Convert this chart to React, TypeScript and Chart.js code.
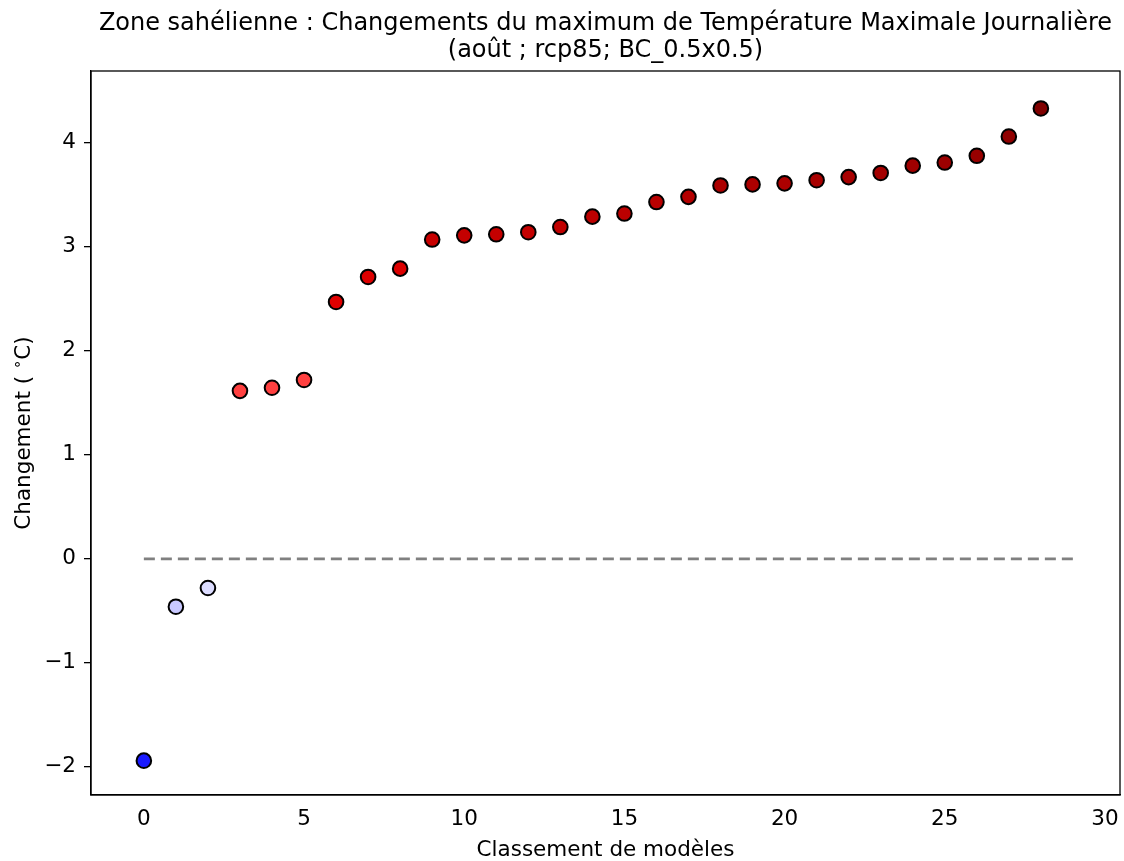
import React, { useEffect, useRef } from "react";
import { Chart, registerables } from "chart.js";

Chart.register(...registerables);

const ranks = [0,1,2,3,4,5,6,7,8,9,10,11,12,13,14,15,16,17,18,19,20,21,22,23,24,25,26,27,28];
const changes = [-1.94,-0.46,-0.28,1.615,1.645,1.72,2.47,2.71,2.79,3.07,3.11,3.12,3.14,3.19,3.29,3.32,3.43,3.48,3.59,3.60,3.61,3.64,3.67,3.71,3.78,3.81,3.875,4.06,4.33];
const pointColors = ["#1a1aff","#c8c8ff","#dcdcff","#ff4040","#ff4040","#ff4040","#e00000","#dd0000","#dd0000","#c80000","#c40000","#c40000","#c40000","#c00000","#bc0000","#bc0000","#b80000","#b40000","#ac0000","#ac0000","#ac0000","#a80000","#a80000","#a40000","#a00000","#9c0000","#980000","#900000","#800000"];
const zeroLineX = [0, 29];
const xTicks = [0, 5, 10, 15, 20, 25, 30];
const yTicks = [-2, -1, 0, 1, 2, 3, 4];
const titleLines = ["Zone sahélienne : Changements du maximum de Température Maximale Journalière", "(août ; rcp85; BC_0.5x0.5)"];
const xTitle = "Classement de modèles";

const FONT = "'DejaVu Sans', sans-serif";

const framePlugin = {
  id: "frame",
  afterDraw(chart: any) {
    const { ctx, chartArea } = chart;
    ctx.save();
    ctx.strokeStyle = "#000";
    ctx.lineWidth = 1.3;
    ctx.strokeRect(chartArea.left, chartArea.top, chartArea.right - chartArea.left, chartArea.bottom - chartArea.top);
    ctx.fillStyle = "#000";
    ctx.textAlign = "center";
    ctx.textBaseline = "alphabetic";
    ctx.font = `24px ${FONT}`;
    const cx = (chartArea.left + chartArea.right) / 2;
    ctx.fillText(titleLines[0], cx, 30);
    ctx.fillText(titleLines[1], cx, 57);
    ctx.font = `21.5px ${FONT}`;
    ctx.fillText(xTitle, cx, 856);
    // y title with superscript
    ctx.translate(30, (chartArea.top + chartArea.bottom) / 2);
    ctx.rotate(-Math.PI / 2);
    const a = "Changement ( ";
    const b = "∘";
    const c = "C)";
    ctx.font = `21.5px ${FONT}`;
    const wa = ctx.measureText(a).width;
    const wc = ctx.measureText(c).width;
    ctx.font = `15px ${FONT}`;
    const wb = ctx.measureText(b).width;
    const total = wa + wb + wc;
    const x0 = -total / 2;
    ctx.textAlign = "left";
    ctx.font = `21.5px ${FONT}`;
    ctx.fillText(a, x0, 0);
    ctx.font = `15px ${FONT}`;
    ctx.fillText(b, x0 + wa, -8);
    ctx.font = `21.5px ${FONT}`;
    ctx.fillText(c, x0 + wa + wb, 0);
    ctx.restore();
  },
};

export default function App() {
  const ref = useRef<HTMLCanvasElement | null>(null);
  useEffect(() => {
    document.body.style.margin = "0";
    const canvas = ref.current!;
    const chart = new Chart(canvas, {
      type: "scatter",
      data: {
        datasets: [
          {
            type: "line",
            data: zeroLineX.map((x) => ({ x, y: 0 })),
            borderColor: "#808080",
            borderWidth: 2.6,
            borderDash: [11, 6],
            pointRadius: 0,
            showLine: true,
            fill: false,
            order: 2,
          } as any,
          {
            data: ranks.map((r, i) => ({ x: r, y: changes[i] })),
            backgroundColor: pointColors,
            borderColor: "#000",
            borderWidth: 2,
            pointRadius: 7.3,
            order: 1,
          },
        ],
      },
      plugins: [framePlugin],
      options: {
        animation: false,
        responsive: false,
        maintainAspectRatio: false,
        layout: { autoPadding: false, padding: { left: 0, right: 4, top: 71, bottom: 0 } },
        plugins: { legend: { display: false }, tooltip: { enabled: false }, title: { display: false } },
        scales: {
          x: {
            type: "linear",
            min: -1.65,
            max: 30.47,
            afterBuildTicks: (axis: any) => { axis.ticks = xTicks.map((v) => ({ value: v })); },
            afterFit: (axis: any) => { axis.height = 66; axis.paddingLeft = 0; axis.paddingRight = 0; },
            grid: { display: true, drawOnChartArea: false, drawTicks: true, tickLength: 7, color: "rgba(0,0,0,0)" },
            border: { display: true, color: "#000", width: 1.3 },
            ticks: { color: "#000", font: { family: FONT, size: 21.5 }, padding: 5, maxRotation: 0, callback: (v: any) => String(v) },
          },
          y: {
            type: "linear",
            min: -2.27,
            max: 4.69,
            afterBuildTicks: (axis: any) => { axis.ticks = yTicks.map((v) => ({ value: v })); },
            afterFit: (axis: any) => { axis.width = 91; axis.paddingTop = 0; axis.paddingBottom = 0; },
            grid: { display: true, drawOnChartArea: false, drawTicks: true, tickLength: 7, color: "#000", lineWidth: 1.3 },
            border: { display: true, color: "#000", width: 1.3 },
            ticks: { color: "#000", font: { family: FONT, size: 21.5 }, padding: 8, callback: (v: any) => (v < 0 ? "−" + Math.abs(v) : String(v)) },
          },
        },
      },
    });
    return () => chart.destroy();
  }, []);
  return (
    <div style={{ width: 1124, height: 861, background: "#fff" }}>
      <canvas ref={ref} width={1124} height={861} style={{ display: "block" }} />
    </div>
  );
}
